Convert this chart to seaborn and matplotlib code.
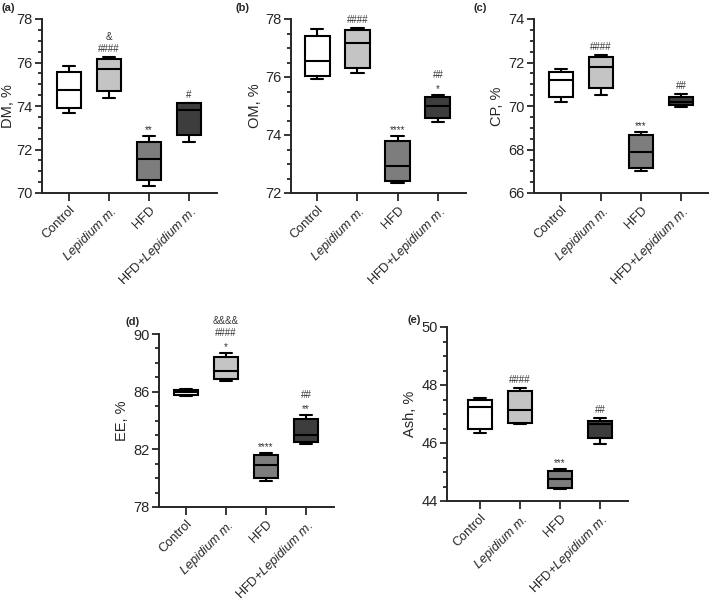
import pandas as pd
import numpy as np
import matplotlib
matplotlib.use("Agg")
import matplotlib.pyplot as plt
from matplotlib.ticker import MultipleLocator
import seaborn as sns

sns.set_style("ticks")
plt.rcParams['font.family'] = ['Liberation Sans', 'DejaVu Sans']
plt.rcParams['mathtext.fontset'] = 'custom'
plt.rcParams['mathtext.rm'] = 'Liberation Sans'
plt.rcParams['mathtext.it'] = 'Liberation Sans:italic'

# groups
groups = ['Control', 'Lepidium m.', 'HFD', 'HFD+Lepidium m.']
group_labels = ['Control', r'$\mathit{Lepidium\ m.}$', 'HFD', r'HFD+$\mathit{Lepidium\ m.}$']
box_colors = ['#ffffff', '#c4c4c4', '#7d7d7d', '#3d3d3d']

# box stats per group: [min, q1, median, q3, max]
dm_stats = [[73.69, 73.92, 74.74, 75.58, 75.82],
            [74.38, 74.69, 75.69, 76.15, 76.25],
            [70.31, 70.60, 71.58, 72.35, 72.62],
            [72.35, 72.66, 73.82, 74.12, 74.15]]
om_stats = [[75.94, 76.05, 76.56, 77.43, 77.66],
            [76.13, 76.31, 77.16, 77.62, 77.70],
            [72.34, 72.40, 72.93, 73.80, 73.97],
            [74.45, 74.60, 75.00, 75.30, 75.39]]
cp_stats = [[70.17, 70.42, 71.20, 71.57, 71.68],
            [70.52, 70.83, 71.80, 72.23, 72.35],
            [67.00, 67.15, 67.88, 68.66, 68.80],
            [69.97, 70.03, 70.20, 70.43, 70.57]]
ee_stats = [[85.72, 85.74, 85.95, 86.12, 86.21],
            [86.77, 86.91, 87.46, 88.43, 88.68],
            [79.78, 79.99, 80.92, 81.61, 81.75],
            [82.35, 82.49, 83.00, 84.10, 84.37]]
ash_stats = [[46.33, 46.49, 47.24, 47.50, 47.56],
             [46.66, 46.68, 47.13, 47.80, 47.90],
             [44.40, 44.46, 44.75, 45.04, 45.10],
             [45.96, 46.16, 46.66, 46.77, 46.85]]

# y ticks per panel
dm_ticks = [70, 72, 74, 76, 78]
om_ticks = [72, 74, 76, 78]
cp_ticks = [66, 68, 70, 72, 74]
ee_ticks = [78, 82, 86, 90]
ash_ticks = [44, 46, 48, 50]

# significance marks per group (bottom line first)
dm_marks = [[], ['####', '&'], ['**'], ['#']]
om_marks = [[], ['####'], ['****'], ['*', '##']]
cp_marks = [[], ['####'], ['***'], ['##']]
ee_marks = [[], ['*', '####', '&&&&'], ['****'], ['**', '##']]
ash_marks = [[], ['####'], ['***'], ['##']]

W, H = 709, 602
fig = plt.figure(figsize=(W / 100, H / 100), dpi=100)


def add_ax(left, right, top, bottom):
    return fig.add_axes([left / W, (H - bottom) / H, (right - left) / W, (bottom - top) / H])


panels = [
    dict(rect=(42, 217, 19, 193), stats=dm_stats, marks=dm_marks, ylab='DM, %', ticks=dm_ticks, minor=0.5, letter='(a)', lpos=(2, 8), xl=-0.675, lp=1),
    dict(rect=(291, 466, 19, 193), stats=om_stats, marks=om_marks, ylab='OM, %', ticks=om_ticks, minor=0.5, letter='(b)', lpos=(236, 8), xl=-0.65, lp=3),
    dict(rect=(534, 709, 19, 193), stats=cp_stats, marks=cp_marks, ylab='CP, %', ticks=cp_ticks, minor=0.5, letter='(c)', lpos=(473, 8), xl=-0.675, lp=3),
    dict(rect=(159, 334, 334, 507), stats=ee_stats, marks=ee_marks, ylab='EE, %', ticks=ee_ticks, minor=1, letter='(d)', lpos=(126, 322), xl=-0.675, lp=3),
    dict(rect=(447, 628, 327, 501), stats=ash_stats, marks=ash_marks, ylab='Ash, %', ticks=ash_ticks, minor=0.5, letter='(e)', lpos=(407, 320), xl=-0.825, lp=3),
]

for p in panels:
    ax = add_ax(*p['rect'])
    rows = []
    for g, st in zip(groups, p['stats']):
        for v in st:
            rows.append({'group': g, 'value': v})
    df = pd.DataFrame(rows)
    sns.boxplot(data=df, x='group', y='value', hue='group', order=groups, hue_order=groups,
                palette=box_colors, whis=(0, 100), width=0.62, linewidth=1.5,
                linecolor='black', showfliers=False, legend=False, saturation=1, ax=ax)
    ax.set_ylim(p['ticks'][0], p['ticks'][-1])
    ax.set_xlim(p['xl'], 3.7)
    ax.set_yticks(p['ticks'])
    ax.yaxis.set_minor_locator(MultipleLocator(p['minor']))
    ax.set_xticks(range(4))
    ax.set_xticklabels(group_labels, rotation=45, ha='right', rotation_mode='anchor', fontsize=9.2)
    ax.tick_params(axis='y', labelsize=10.5, width=1.3, length=5, pad=1.5)
    ax.tick_params(axis='y', which='minor', width=1.3, length=3)
    ax.tick_params(axis='x', width=1.3, length=6, pad=2)
    for s in ['left', 'bottom']:
        ax.spines[s].set_linewidth(1.4)
    for s in ['top', 'right']:
        ax.spines[s].set_visible(False)
    ax.set_xlabel('')
    ax.set_ylabel(p['ylab'], fontsize=10.5, labelpad=p['lp'])
    for i, (st, mk) in enumerate(zip(p['stats'], p['marks'])):
        for k, m in enumerate(mk):
            off = 3 + 12 * k
            if m.startswith('*'):
                off -= 2
            ax.annotate(m, (i, st[-1]), xytext=(0, off), textcoords='offset pixels',
                        ha='center', va='bottom', fontsize=7, color='#333333',
                        annotation_clip=False)
    fig.text(p['lpos'][0] / W, 1 - p['lpos'][1] / H, p['letter'], fontsize=8,
             fontweight='bold', ha='left', va='center')

fig.savefig('out.png', dpi=100)
